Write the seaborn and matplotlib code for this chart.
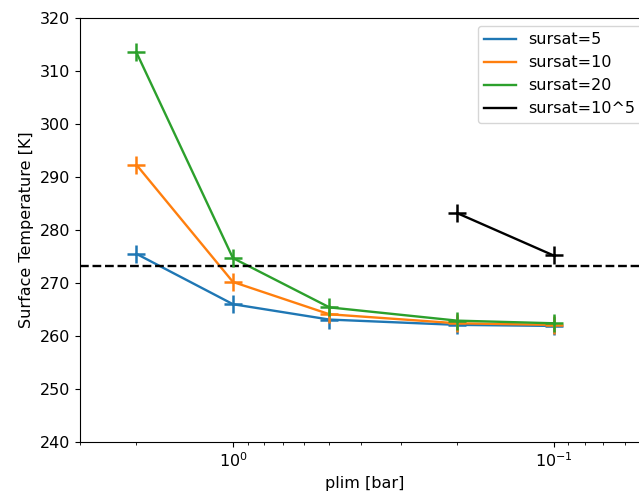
import matplotlib
matplotlib.use("Agg")
import matplotlib.pyplot as plt
import seaborn as sns
import pandas as pd

# Pressure limit values [bar]
plim = [2.0, 1.0, 0.5, 0.2, 0.1]
plim_high = [0.2, 0.1]

# Surface temperature [K] for each supersaturation setting
temp_s5 = [275.5, 266.0, 263.1, 262.1, 261.9]
temp_s10 = [292.3, 270.2, 264.1, 262.4, 262.1]
temp_s20 = [313.5, 274.7, 265.4, 262.9, 262.4]
temp_s1e5 = [283.2, 275.2]

freezing_point = 273.15

series = [
    ("sursat=5", plim, temp_s5, "#1f77b4"),
    ("sursat=10", plim, temp_s10, "#ff7f0e"),
    ("sursat=20", plim, temp_s20, "#2ca02c"),
    ("sursat=10^5", plim_high, temp_s1e5, "black"),
]

fs = 11.5
plt.rcParams.update({"font.size": fs})

fig = plt.figure(figsize=(6.39, 4.96), dpi=100)
ax = fig.add_axes([80 / 639, 54 / 496, (650 - 80) / 639, (442 - 18) / 496])

for label, x, y, color in series:
    df = pd.DataFrame({"plim": x, "T": y})
    sns.lineplot(data=df, x="plim", y="T", ax=ax, color=color, label=label,
                 linewidth=1.7, sort=False)
    sns.scatterplot(data=df, x="plim", y="T", ax=ax, color=color,
                    marker="+", s=155, linewidth=1.8, legend=False, zorder=3)

ax.axhline(freezing_point, color="black", linestyle="--", linewidth=1.7)

ax.set_xscale("log")
ax.set_xlim(3, 0.05)
ax.set_ylim(240, 320)
ax.set_xlabel("plim [bar]")
ax.set_ylabel("Surface Temperature [K]")
ax.legend(loc="upper right")

fig.savefig("out.png", dpi=100)
